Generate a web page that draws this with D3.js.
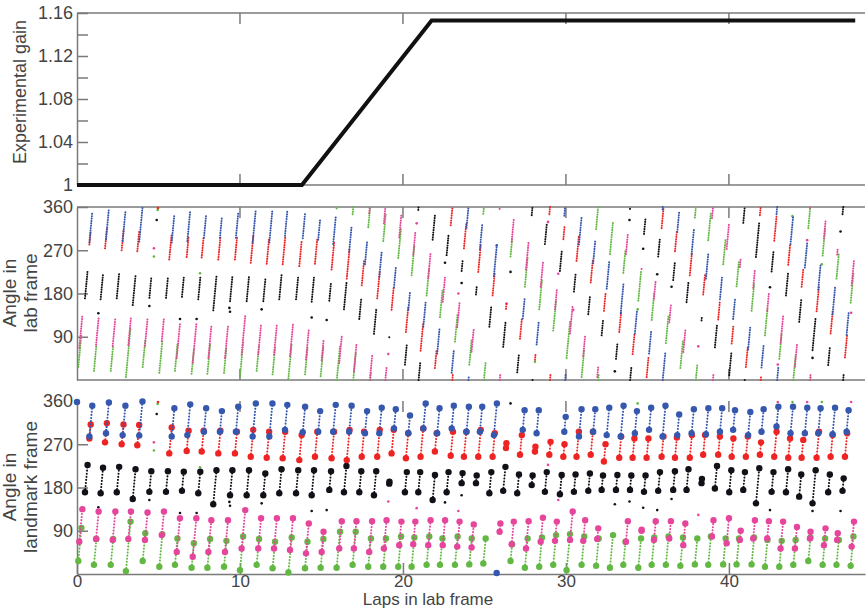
<!DOCTYPE html>
<html>
<head>
<meta charset="utf-8">
<script src="https://cdn.jsdelivr.net/npm/d3@7"></script>
<style>
  body { margin: 0; background: #fff; }
  text { font-family: "Liberation Sans", Arial, sans-serif; fill: #444; }
  .axis path, .axis line, .border { stroke: #7a7a7a; stroke-width: 1.5; fill: none; }
</style>
</head>
<body>
<div id="chart"></div>
<script>
// gain protocol (top panel)
const gainLaps = [0, 13.8, 21.76, 47.75]
const gainValues = [1, 1, 1.153, 1.153]

const xTicks = [0, 10, 20, 30, 40]
const gainTicks = [1, 1.02, 1.04, 1.06, 1.08, 1.10, 1.12, 1.14, 1.16]
const angleTicks = [90, 180, 270, 360]

// streaks of spikes: [lap where streak starts, angle lo, angle hi]
// landmark frame (bottom panel)
const lmBlue = [[0.0,358,358],[0.76,286,350],[1.78,293,357],[2.80,289,350],[3.82,288,359],[5.81,286,345],[6.77,289,353],[7.79,296,345],[8.77,296,339],[9.75,296,348],[10.78,286,355],[11.80,286,355],[12.76,300,352],[13.85,295,348],[14.80,296,339],[15.72,296,352],[16.70,296,350],[17.67,293,339],[18.55,293,346],[19.45,303,343],[20.33,293,330],[21.25,303,355],[22.10,293,345],[22.99,303,350],[23.90,296,348],[24.72,296,348],[25.58,289,355],[25.75,2,2],[27.35,300,341],[28.20,293,341],[29.90,296,327],[30.80,286,343],[31.67,296,343],[32.50,289,346],[33.36,286,350],[34.23,293,339],[35.10,300,346],[35.93,286,350],[36.83,289,332],[37.71,293,343],[38.59,291,345],[39.45,296,345],[40.26,300,341],[41.18,289,337],[42.00,296,343],[42.92,307,348],[43.78,293,348],[44.66,293,346],[45.48,293,345],[46.36,291,346],[47.22,296,341]]
const lmRed = [[0.76,282,311],[1.72,274,314],[2.74,270,311],[3.70,268,310],[5.66,251,305],[6.73,256,298],[7.65,255,298],[8.67,251,298],[9.69,251,296],[10.66,244,300],[11.64,242,296],[12.62,241,296],[13.64,237,289],[14.60,244,296],[15.62,241,296],[16.55,237,300],[17.47,244,296],[18.42,244,300],[19.30,251,300],[20.18,241,293],[21.08,244,303],[21.96,255,293],[22.93,246,296],[23.74,244,296],[24.62,244,300],[25.50,244,293],[26.32,262,272],[27.18,248,289],[28.10,255,265],[28.98,248,275],[29.84,244,270],[30.65,244,296],[31.52,248,296],[32.33,234,270],[33.27,242,286],[34.09,242,282],[34.95,242,282],[35.87,244,286],[36.69,242,284],[37.60,242,289],[38.42,248,289],[39.34,248,286],[40.17,244,282],[41.04,244,286],[41.90,248,274],[42.78,244,296],[43.64,242,282],[44.46,242,279],[45.38,242,296],[46.24,244,289],[47.12,244,293]]
const lmBlack = [[0.49,170,227],[1.45,168,221],[2.44,170,223],[3.42,156,218],[4.44,171,214],[5.46,171,214],[6.44,173,213],[7.44,168,213],[8.36,145,216],[9.39,164,216],[10.41,164,216],[11.43,164,209],[12.41,168,218],[13.44,168,216],[14.40,164,216],[15.48,175,214],[16.38,170,225],[17.32,170,214],[18.22,164,214],[19.16,188,192],[20.12,170,212],[20.94,170,212],[21.82,154,206],[22.68,170,212],[23.60,189,210],[24.48,189,205],[25.30,168,212],[26.15,173,223],[27.01,168,207],[27.90,185,205],[28.71,171,212],[29.63,166,206],[30.49,171,207],[31.37,173,209],[32.19,175,205],[33.07,175,206],[33.93,175,205],[34.79,171,205],[35.66,173,212],[36.58,175,214],[37.40,175,218],[38.32,189,198],[39.14,178,225],[40.02,170,216],[40.88,175,212],[41.66,147,220],[42.62,171,212],[43.50,170,218],[44.31,161,207],[45.13,147,216],[46.09,170,207],[46.97,173,199]]
const lmMagenta = [[0.14,67,135],[1.17,73,130],[2.19,71,130],[3.15,73,130],[4.17,71,128],[5.20,81,130],[6.12,46,116],[7.10,36,116],[8.06,46,112],[9.08,46,112],[10.10,53,133],[11.12,53,116],[12.09,53,116],[13.07,50,116],[14.05,43,105],[15.01,46,88],[16.09,53,110],[16.99,53,110],[17.93,46,110],[18.83,53,112],[19.77,60,109],[20.63,62,109],[21.55,60,112],[22.44,60,112],[23.33,57,109],[24.21,55,103],[25.93,88,105],[26.67,62,109],[27.55,53,110],[28.45,67,117],[29.33,69,109],[30.25,71,130],[31.06,69,112],[31.92,73,95],[33.68,67,110],[34.64,90,92],[35.40,71,110],[36.34,74,110],[37.20,60,105],[38.96,78,112],[39.86,64,116],[40.67,71,90],[41.49,74,112],[42.35,74,110],[43.17,53,109],[44.05,53,98],[44.97,74,88],[45.83,60,95],[46.64,71,85],[47.53,57,109]]
const lmGreen = [[0.08,27,96],[1.04,19,73],[2.07,19,73],[3.00,6,109],[4.03,27,85],[5.05,15,83],[6.01,19,74],[7.03,13,64],[8.00,13,73],[9.02,15,69],[10.00,8,78],[11.02,19,73],[12.00,12,67],[12.97,3,76],[13.99,12,67],[14.95,13,73],[15.93,13,88],[16.91,19,88],[17.87,15,74],[18.79,15,74],[19.71,15,78],[20.53,15,76],[21.45,19,78],[22.27,19,74],[23.19,19,78],[24.07,20,74],[24.93,22,74],[26.60,27,62],[27.48,13,74],[28.36,15,76],[29.22,19,81],[30.04,8,83],[30.96,19,78],[31.85,17,74],[32.70,13,81],[33.52,19,67],[34.44,13,74],[35.26,19,76],[36.13,19,78],[37.02,17,76],[37.91,20,74],[38.73,19,78],[39.65,20,74],[40.47,20,74],[41.39,20,76],[42.21,15,71],[43.09,15,69],[43.95,19,71],[44.87,27,76],[45.75,19,74],[46.60,19,71],[47.47,17,78]]

// lab frame (middle panel)
const labBlue = [[0.76,286,350],[1.78,293,357],[2.80,289,350],[3.82,288,359],[5.81,286,345],[6.77,289,353],[7.79,296,345],[8.77,296,339],[9.75,296,348],[10.78,286,355],[11.80,286,355],[12.76,300,352],[13.85,295,348],[14.80,292,336],[15.72,283,339],[16.70,267,321],[17.67,241,287],[18.55,215,268],[19.45,193,233],[20.33,146,183],[21.25,111,163],[22.10,55,107],[22.99,15,62],[23.90,317,360],[24.02,0,9],[24.72,272,324],[25.58,216,282],[25.75,280,280],[27.35,128,170],[28.20,74,122],[29.90,342,360],[29.95,0,13],[30.80,282,339],[31.67,243,290],[32.50,190,247],[33.36,139,203],[34.23,97,143],[35.10,55,101],[35.93,355,360],[35.94,0,59],[36.83,308,351],[37.71,262,312],[38.59,211,265],[39.45,168,217],[40.26,127,168],[41.18,64,112],[42.00,26,73],[42.92,345,360],[42.96,0,26],[43.78,283,338],[44.66,234,287],[45.48,188,240],[46.36,137,192],[47.22,94,139]]
const labRed = [[0.76,282,311],[1.72,274,314],[2.74,270,311],[3.70,268,310],[5.66,251,305],[6.73,256,298],[7.65,255,298],[8.67,251,298],[9.69,251,296],[10.66,244,300],[11.64,242,296],[12.62,241,296],[13.64,237,289],[14.60,242,294],[15.62,230,285],[16.55,211,274],[17.47,197,249],[18.42,170,226],[19.30,146,195],[20.18,100,152],[21.08,61,120],[21.96,25,63],[22.93,322,360],[23.03,0,12],[23.74,274,326],[24.62,225,281],[25.50,176,225],[26.32,148,158],[27.18,86,127],[28.10,42,52],[28.98,345,360],[29.02,0,12],[29.84,293,319],[30.65,248,300],[31.52,203,251],[32.33,144,180],[33.27,100,144],[34.09,54,94],[34.95,6,46],[35.87,316,358],[36.69,268,310],[37.60,218,265],[38.42,178,219],[39.34,126,164],[40.17,76,114],[41.04,27,69],[41.90,343,360],[41.95,0,9],[42.78,290,342],[43.64,240,280],[44.46,194,231],[45.38,143,197],[46.24,97,142],[47.12,47,96]]
const labBlack = [[0.49,170,227],[1.45,168,221],[2.44,170,223],[3.42,156,218],[4.44,171,214],[5.46,171,214],[6.44,173,213],[7.44,168,213],[8.36,145,216],[9.39,164,216],[10.41,164,216],[11.43,164,209],[12.41,168,218],[13.44,168,216],[14.40,163,215],[15.48,165,204],[16.38,147,202],[17.32,127,171],[18.22,96,146],[19.16,89,93],[20.12,32,74],[20.94,354,360],[20.96,0,36],[21.82,292,344],[22.68,260,302],[23.60,227,248],[24.48,178,194],[25.30,111,155],[26.15,69,119],[27.01,16,55],[27.90,343,360],[27.95,0,3],[28.71,283,324],[29.63,227,267],[30.49,184,220],[31.37,137,173],[32.19,93,123],[33.07,44,75],[33.93,356,360],[33.94,0,26],[34.79,304,338],[35.66,257,296],[36.58,208,247],[37.40,162,205],[38.32,124,133],[39.14,68,115],[40.02,10,56],[40.88,327,360],[40.97,0,4],[41.66,256,329],[42.62,226,267],[43.50,176,224],[44.31,121,167],[45.13,62,131],[46.09,31,68],[46.97,345,360],[47.01,0,11]]
const labMagenta = [[0.14,67,135],[1.17,73,130],[2.19,71,130],[3.15,73,130],[4.17,71,128],[5.20,81,130],[6.12,46,116],[7.10,36,116],[8.06,46,112],[9.08,46,112],[10.10,53,133],[11.12,53,116],[12.09,53,116],[13.07,50,116],[14.05,43,105],[15.01,41,83],[16.09,35,92],[16.99,18,75],[17.93,347,360],[17.97,0,51],[18.83,326,360],[18.92,0,25],[19.77,297,346],[20.63,261,308],[21.55,212,264],[22.44,163,215],[23.33,110,162],[24.21,59,107],[25.93,356,360],[25.94,0,13],[26.67,288,335],[27.55,230,287],[28.45,194,244],[29.33,147,187],[30.25,97,156],[31.06,50,93],[31.92,6,28],[33.68,262,305],[34.64,231,233],[35.40,169,208],[36.34,120,156],[37.20,58,103],[38.96,337,360],[39.02,0,12],[39.86,273,325],[40.67,235,254],[41.49,192,230],[42.35,144,180],[43.17,77,133],[44.05,28,73],[44.97,358,360],[44.98,0,12],[45.83,295,330],[46.64,261,275],[47.53,197,249]]
const labGreen = [[0.08,27,96],[1.04,19,73],[2.07,19,73],[3.00,6,109],[4.03,27,85],[5.05,15,83],[6.01,19,74],[7.03,13,64],[8.00,13,73],[9.02,15,69],[10.00,8,78],[11.02,19,73],[12.00,12,67],[12.97,3,76],[13.99,12,67],[14.95,8,68],[15.93,357,360],[15.94,0,72],[16.91,345,360],[16.95,0,55],[17.87,318,360],[17.99,0,17],[18.79,289,348],[19.71,254,317],[20.53,218,279],[21.45,176,235],[22.27,131,186],[23.19,80,139],[24.07,32,86],[24.93,346,360],[24.97,0,38],[26.60,257,292],[27.48,194,255],[28.36,147,208],[29.22,103,165],[30.04,46,121],[30.96,6,65],[31.85,314,360],[31.98,0,11],[32.70,262,330],[33.52,223,271],[34.44,165,226],[35.26,125,182],[36.13,77,136],[37.02,25,84],[37.91,338,360],[37.97,0,32],[38.73,291,350],[39.65,241,295],[40.47,195,249],[41.39,144,200],[42.21,93,149],[43.09,44,98],[43.95,0,52],[44.87,316,360],[44.99,0,5],[45.75,259,314],[46.60,211,263],[47.47,161,222]]

// single stray spikes: [lap, angle, cell]
const lmStrays = [[1.31,139,"k"],[4.44,154,"k"],[4.72,274,"m"],[4.72,257,"g"],[4.89,333,"k"],[4.95,354,"g"],[4.97,358,"r"],[6.32,127,"k"],[7.34,127,"k"],[7.55,222,"g"],[9.35,150,"k"],[9.39,142,"k"],[11.33,147,"k"],[14.4,131,"k"],[15.32,133,"k"],[19.1,151,"m"],[20.84,137,"m"],[22.58,149,"k"],[23.4,131,"m"],[23.6,164,"k"],[26.6,355,"k"],[26.36,275,"m"],[28.1,251,"g"],[28.9,227,"m"],[29.53,154,"m"],[30.45,131,"m"],[33.0,145,"k"],[33.9,151,"k"],[34.74,138,"k"],[35.6,133,"k"],[36.48,156,"k"],[38.12,123,"m"],[42.52,133,"k"],[45.13,131,"k"],[46.85,131,"k"],[43.0,358,"m"],[43.9,358,"g"],[44.8,358,"m"],[45.7,358,"g"],[47.5,358,"m"],[34.4,355,"g"]]
const labStrays = [[1.31,139,"k"],[4.44,154,"k"],[4.72,274,"m"],[4.72,257,"g"],[4.89,333,"k"],[4.95,354,"g"],[4.97,358,"r"],[6.32,127,"k"],[7.34,127,"k"],[7.55,222,"g"],[9.35,150,"k"],[9.39,142,"k"],[11.33,147,"k"],[14.4,130,"k"],[15.32,125,"k"],[19.1,54,"m"],[20.84,326,"m"],[22.58,244,"k"],[23.4,180,"m"],[23.6,202,"k"],[26.6,225,"k"],[26.36,159,"m"],[28.1,38,"g"],[28.9,329,"m"],[29.53,221,"m"],[30.45,146,"m"],[33.0,18,"k"],[33.9,333,"k"],[34.74,273,"k"],[35.6,220,"k"],[36.48,194,"k"],[38.12,70,"m"],[42.52,193,"k"],[45.13,46,"k"],[46.85,309,"k"],[43.0,32,"m"],[43.9,341,"g"],[44.8,291,"m"],[45.7,241,"g"],[47.5,140,"m"],[34.4,147,"g"]]

const colors = { b: "#3557ad", r: "#ee2424", k: "#111118", m: "#e5469c", g: "#62b843" }

const W = 868, H = 608
const svg = d3.select("#chart").append("svg").attr("width", W).attr("height", H)

const x = d3.scaleLinear().domain([0, 48.35]).range([77, 865])
const yGain = d3.scaleLinear().domain([1, 1.16]).range([185, 13])
const yLab = d3.scaleLinear().domain([0, 360]).range([380, 207])
const yLm = d3.scaleLinear().domain([0, 360]).range([574, 401])

// ---- axes ----
const gainFmt = v => {
  const r = Math.round(v * 100)
  if (r % 4 !== 0) return ""
  return r === 100 ? "1" : (r / 100).toFixed(2)
}
svg.append("g").attr("class", "axis").attr("transform", "translate(77,0)")
  .call(d3.axisLeft(yGain).tickValues(gainTicks).tickFormat(gainFmt).tickSize(-11).tickSizeOuter(0).tickPadding(4))

function angleAxis(y, noTopTick) {
  const a = svg.append("g").attr("class", "axis").attr("transform", "translate(77,0)")
    .call(d3.axisLeft(y).tickValues(angleTicks).tickSize(-11).tickSizeOuter(0).tickPadding(4))
  if (noTopTick) a.selectAll(".tick line").filter(d => d === 360).remove()
  return a
}
angleAxis(yLab, false)
angleAxis(yLm, true)
svg.selectAll(".axis text").style("font-size", "18px")

const xAxis = svg.append("g").attr("class", "axis").attr("transform", "translate(0,574)")
  .call(d3.axisBottom(x).tickValues(xTicks).tickSize(-11).tickSizeOuter(0).tickPadding(1))
xAxis.selectAll("text").style("font-size", "17px")

svg.selectAll(".axis text").attr("fill", "#444")
svg.selectAll(".axis .domain").attr("stroke", "#7a7a7a")
svg.selectAll(".axis .tick line").attr("stroke", "#7a7a7a")

// borders with inward ticks: [y, direction, draw line]
const borders = [[13, 1, true], [185, -1, true], [207, 1, true], [380, -1, true], [401, 1, false]]
borders.forEach(([yy, dir, line]) => {
  if (line) svg.append("line").attr("class", "border")
    .attr("x1", x(0)).attr("x2", x.range()[1]).attr("y1", yy).attr("y2", yy)
  svg.selectAll(null).data(xTicks.filter(t => t > 0)).join("line").attr("class", "border")
    .attr("x1", d => x(d)).attr("x2", d => x(d))
    .attr("y1", yy).attr("y2", yy + dir * 11)
})

// ---- top panel: gain ----
const gainData = gainLaps.map((l, i) => [l, gainValues[i]])
svg.append("path").datum(gainData)
  .attr("fill", "none").attr("stroke", "#111").attr("stroke-width", 4)
  .attr("d", d3.line().x(d => x(d[0])).y(d => yGain(d[1])))

// ---- spike streaks ----
function streaks(data, y, color, landmark) {
  const g = svg.append("g")
  const lines = data.filter(d => d[2] > d[1])
  g.selectAll("line").data(lines).join("line")
    .attr("x1", d => x(d[0])).attr("y1", d => y(d[1]))
    .attr("x2", d => x(d[0] + (d[2] - d[1]) / 360)).attr("y2", d => y(d[2]))
    .attr("stroke", color)
    .attr("stroke-width", 2)
    .attr("stroke-linecap", "round")
    .attr("stroke-dasharray", landmark ? "0.1,3" : "0.1,2.3")
  if (landmark) {
    const ends = []
    data.forEach(d => {
      ends.push([d[0], d[1]])
      if (d[2] > d[1]) ends.push([d[0] + (d[2] - d[1]) / 360, d[2]])
    })
    g.selectAll("circle").data(ends).join("circle")
      .attr("cx", d => x(d[0])).attr("cy", d => y(d[1])).attr("r", 3.2)
      .attr("fill", color)
  } else {
    g.selectAll("circle").data(data.filter(d => d[2] === d[1])).join("circle")
      .attr("cx", d => x(d[0])).attr("cy", d => y(d[1])).attr("r", 1.3)
      .attr("fill", color)
  }
}
function strays(data, y) {
  svg.append("g").selectAll("circle").data(data).join("circle")
    .attr("cx", d => x(d[0])).attr("cy", d => y(d[1])).attr("r", 1.3)
    .attr("fill", d => colors[d[2]])
}

strays(labStrays, yLab)
streaks(labGreen, yLab, colors.g, false)
streaks(labMagenta, yLab, colors.m, false)
streaks(labBlack, yLab, colors.k, false)
streaks(labRed, yLab, colors.r, false)
streaks(labBlue, yLab, colors.b, false)

strays(lmStrays, yLm)
streaks(lmGreen, yLm, colors.g, true)
streaks(lmMagenta, yLm, colors.m, true)
streaks(lmBlack, yLm, colors.k, true)
streaks(lmRed, yLm, colors.r, true)
streaks(lmBlue, yLm, colors.b, true)

// ---- axis titles ----
function vLabel(lines, cy, size) {
  lines.forEach(([txt, bx]) => {
    svg.append("text").attr("transform", `translate(${bx},${cy}) rotate(-90)`)
      .attr("text-anchor", "middle").style("font-size", size + "px").text(txt)
  })
}
vLabel([["Experimental gain", 26]], 92, 18)
vLabel([["Angle in", 16], ["lab frame", 37]], 293, 19)
vLabel([["Angle in", 16], ["landmark frame", 37]], 487, 19)

svg.append("text").attr("x", 428).attr("y", 605).attr("text-anchor", "middle")
  .style("font-size", "17px").text("Laps in lab frame")
</script>
</body>
</html>
